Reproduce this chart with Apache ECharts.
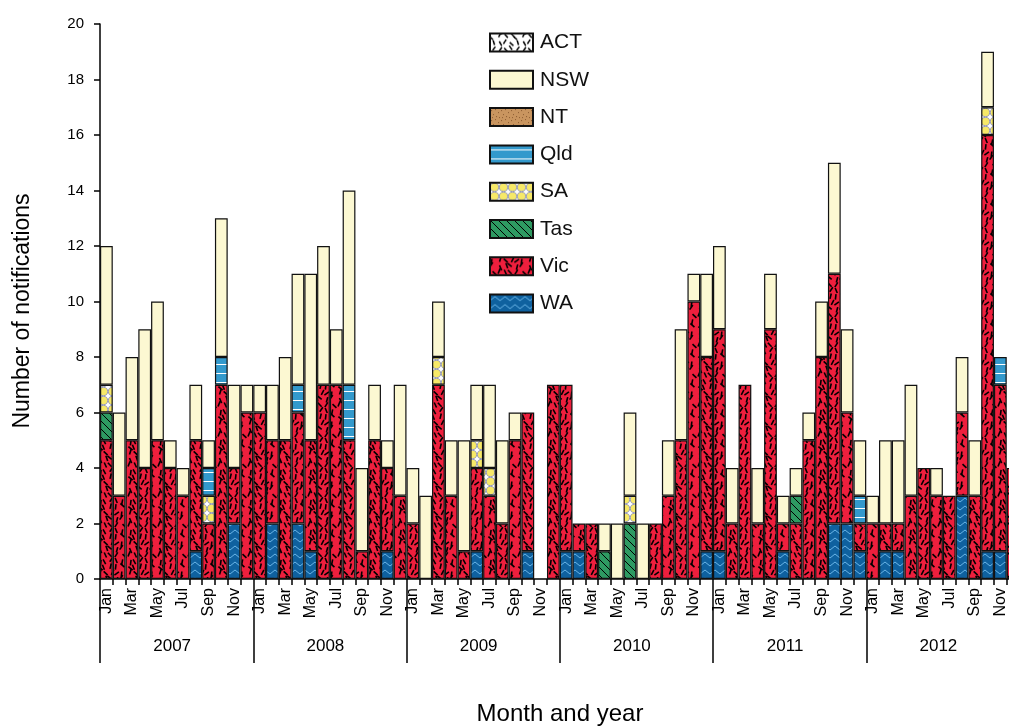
<!DOCTYPE html>
<html><head><meta charset="utf-8">
<script src="https://cdn.jsdelivr.net/npm/echarts@6/dist/echarts.min.js"></script>
<style>html,body{margin:0;padding:0;background:#fff}#c{width:1009px;height:726px}</style>
</head><body><div id="c"></div>
<script>
const years = ['2007','2008','2009','2010','2011','2012'];
const monthNames = ['Jan','Feb','Mar','Apr','May','Jun','Jul','Aug','Sep','Oct','Nov','Dec'];
const legendOrder = ['ACT','NSW','NT','Qld','SA','Tas','Vic','WA'];

// values, Jan 2007 ... Dec 2012
const WA = [0,0,0,0,0,0,0,1,0,0,2,0, 0,2,0,2,1,0,0,0,0,0,1,0, 0,0,0,0,0,1,0,0,0,1,0,0,
            1,1,0,0,0,0,0,0,0,0,0,1, 1,0,0,0,0,1,0,0,0,2,2,1, 0,1,1,0,0,0,0,3,0,1,1,0];
const Vic = [5,3,5,4,5,4,3,4,2,7,2,6, 6,3,5,4,4,7,7,5,1,5,3,3, 2,0,7,3,1,3,3,2,5,5,0,7,
             6,1,2,0,0,0,0,2,3,5,10,7, 8,2,7,2,9,1,2,5,8,9,4,1, 2,1,1,3,4,3,3,3,3,15,6,4];
const Tas = [1,0,0,0,0,0,0,0,0,0,0,0, 0,0,0,0,0,0,0,0,0,0,0,0, 0,0,0,0,0,0,0,0,0,0,0,0,
             0,0,0,1,0,2,0,0,0,0,0,0, 0,0,0,0,0,0,1,0,0,0,0,0, 0,0,0,0,0,0,0,0,0,0,0,0];
const SA = [1,0,0,0,0,0,0,0,1,0,0,0, 0,0,0,0,0,0,0,0,0,0,0,0, 0,0,1,0,0,1,1,0,0,0,0,0,
            0,0,0,0,0,1,0,0,0,0,0,0, 0,0,0,0,0,0,0,0,0,0,0,0, 0,0,0,0,0,0,0,0,0,1,0,0];
const Qld = [0,0,0,0,0,0,0,0,1,1,0,0, 0,0,0,1,0,0,0,2,0,0,0,0, 0,0,0,0,0,0,0,0,0,0,0,0,
             0,0,0,0,0,0,0,0,0,0,0,0, 0,0,0,0,0,0,0,0,0,0,0,1, 0,0,0,0,0,0,0,0,0,0,1,0];
const NT = [0,0,0,0,0,0,0,0,0,0,0,0, 0,0,0,0,0,0,0,0,0,0,0,0, 0,0,0,0,0,0,0,0,0,0,0,0,
            0,0,0,0,0,0,0,0,0,0,0,0, 0,0,0,0,0,0,0,0,0,0,0,0, 0,0,0,0,0,0,0,0,0,0,0,0];
const NSW = [5,3,3,5,5,1,1,2,1,5,3,1, 1,2,3,4,6,5,2,7,3,2,1,4, 2,3,2,2,4,2,3,3,1,0,0,0,
             0,0,0,1,2,3,2,0,2,4,1,3, 3,2,0,2,2,1,1,1,2,4,3,2, 1,3,3,4,0,1,0,2,2,2,0,0];
const ACT = [0,0,0,0,0,0,0,0,0,0,0,0, 0,0,0,0,0,0,0,0,0,0,0,0, 0,0,0,0,0,0,0,0,0,0,0,0,
             0,0,0,0,0,0,0,0,0,0,0,0, 0,0,0,0,0,0,0,0,0,0,0,0, 0,0,0,0,0,0,0,0,0,0,0,0];

const categories = [];
years.forEach(y => monthNames.forEach(m => categories.push(m + ' ' + y)));

// ---------- fill patterns ----------
function tile(w, h, draw) {
  const c = document.createElement('canvas'); c.width = w; c.height = h;
  const g = c.getContext('2d'); draw(g, w, h);
  return { image: c, repeat: 'repeat' };
}
// evenly spread short dashes (one per cell, jittered) for the "Vic"/"ACT" textures
function dashes(g, w, h, cells, seed, len, lw) {
  let s = seed;
  const r = () => { s = (s * 16807) % 2147483647; return s / 2147483647; };
  g.strokeStyle = '#000'; g.lineWidth = lw; g.lineCap = 'butt';
  const cw = w / cells, ch = h / cells;
  for (let i = 0; i < cells; i++) for (let j = 0; j < cells; j++) {
    const x = (i + 0.2 + r() * 0.6) * cw, y = (j + 0.2 + r() * 0.6) * ch;
    const a = (r() < 0.6 ? Math.PI / 3 + (r() - 0.5) * 0.9 : 2 * Math.PI / 3 + (r() - 0.5) * 0.9);
    const dx = Math.cos(a) * len / 2, dy = Math.sin(a) * len / 2;
    for (const ox of [-w, 0, w]) for (const oy of [-h, 0, h]) {
      g.beginPath(); g.moveTo(x + ox - dx, y + oy - dy); g.lineTo(x + ox + dx, y + oy + dy); g.stroke();
    }
  }
}
const fills = {
  ACT: tile(24, 24, (g, w, h) => { g.fillStyle = '#fff'; g.fillRect(0, 0, w, h); dashes(g, w, h, 4, 7, 5, 1.5); }),
  NSW: '#FCF8D2',
  NT: tile(10, 10, (g, w, h) => { g.fillStyle = '#C9955F'; g.fillRect(0, 0, w, h); g.fillStyle = '#8A5A30';
        [[1,2],[5,1],[8,4],[3,6],[6,8],[9,9],[2,9]].forEach(p => g.fillRect(p[0], p[1], 1, 1)); }),
  Qld: tile(9, 9, (g, w, h) => { g.fillStyle = '#3399CC'; g.fillRect(0, 0, w, h); g.fillStyle = '#fff'; g.fillRect(0, 4, w, 1); }),
  SA: tile(9, 9, (g, w, h) => { g.fillStyle = '#fff'; g.fillRect(0, 0, w, h);
        g.fillStyle = '#F7E968'; g.strokeStyle = '#8A90B8'; g.lineWidth = 0.9;
        g.beginPath(); g.arc(4.5, 4.5, 4.1, 0, Math.PI * 2); g.fill(); g.stroke(); }),
  Tas: tile(8, 8, (g, w, h) => { g.fillStyle = '#2E9A62'; g.fillRect(0, 0, w, h); g.strokeStyle = '#000'; g.lineWidth = 1;
        for (const k of [-8, 0, 8]) { g.beginPath(); g.moveTo(k, 0); g.lineTo(k + 8, 8); g.stroke(); } }),
  Vic: tile(30, 30, (g, w, h) => { g.fillStyle = '#EE1F3D'; g.fillRect(0, 0, w, h); dashes(g, w, h, 5, 12345, 5.5, 1.6); }),
  WA: tile(10, 8, (g, w, h) => { g.fillStyle = '#0F619F'; g.fillRect(0, 0, w, h); g.strokeStyle = '#6AB4E6'; g.lineWidth = 1;
        g.beginPath(); g.moveTo(0, 6); g.lineTo(5, 2); g.lineTo(10, 6); g.stroke(); })
};

const FONT = 'Liberation Sans, Arial, sans-serif';
function mk(name, arr) {
  return {
    name, type: 'bar', stack: 'total', xAxisIndex: 0,
    data: arr.map(v => v === 0 ? '-' : v),
    barCategoryGap: '0%', barGap: '0%',
    itemStyle: { color: fills[name], borderColor: '#111', borderWidth: 1.2 },
    emphasis: { disabled: true }
  };
}
// stacking order bottom -> top
const series = [mk('WA', WA), mk('Vic', Vic), mk('Tas', Tas), mk('SA', SA), mk('Qld', Qld), mk('NT', NT), mk('NSW', NSW), mk('ACT', ACT)];

const chart = echarts.init(document.getElementById('c'), null, { renderer: 'canvas' });
chart.setOption({
  animation: false,
  backgroundColor: '#fff',
  grid: { left: 100, top: 24, bottom: 147, right: -10.5, containLabel: false, outerBoundsMode: 'none' },
  legend: {
    data: legendOrder, orient: 'vertical', left: 489, top: 32, padding: 0,
    itemWidth: 43, itemHeight: 18, itemGap: 16.3, icon: 'rect', selectedMode: false,
    textStyle: { fontSize: 21, color: '#111', fontFamily: FONT, lineHeight: 20, padding: [0, 0, 0, 2] }
  },
  tooltip: { show: false },
  xAxis: [
    {
      type: 'category', data: categories, position: 'bottom',
      axisLine: { show: true, onZero: false, lineStyle: { color: '#000', width: 1.5 } },
      axisTick: { show: true, interval: 0, length: 6, lineStyle: { color: '#000', width: 1.5 } },
      axisLabel: { interval: 1, rotate: 90, fontSize: 16, margin: 9, color: '#000', fontFamily: FONT,
                   formatter: v => v.split(' ')[0] },
      splitLine: { show: false }
    },
    {
      type: 'category', data: years, position: 'bottom', offset: 0,
      axisLine: { show: false },
      axisTick: { show: true, interval: 0, length: 84, lineStyle: { color: '#000', width: 1.5 } },
      axisLabel: { fontSize: 17, margin: 59, color: '#000', fontFamily: FONT, padding: [0, 9, 0, 0] },
      splitLine: { show: false }
    }
  ],
  yAxis: {
    type: 'value', min: 0, max: 20, interval: 2,
    axisLine: { show: true, lineStyle: { color: '#000', width: 1.5 } },
    axisTick: { show: true, length: 6, lineStyle: { color: '#000', width: 1.5 } },
    axisLabel: { fontSize: 15, color: '#000', margin: 16, fontFamily: FONT },
    splitLine: { show: false }
  },
  graphic: [
    { type: 'text', x: 23, y: 311, rotation: Math.PI / 2,
      style: { text: 'Number of notifications', font: '23px ' + FONT, fill: '#000', align: 'center', verticalAlign: 'middle' } },
    { type: 'text', x: 560, y: 714,
      style: { text: 'Month and year', font: '24px ' + FONT, fill: '#000', align: 'center', verticalAlign: 'middle' } }
  ],
  series
});
</script>
</body></html>
